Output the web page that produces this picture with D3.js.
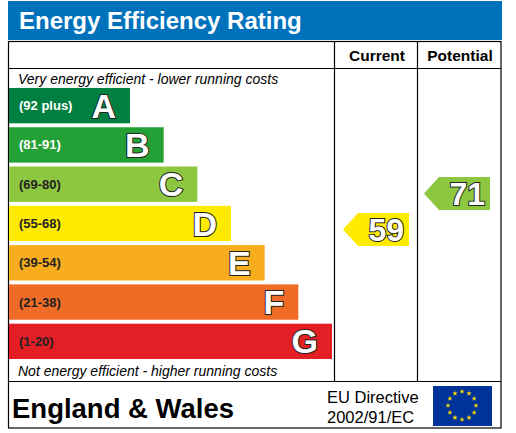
<!DOCTYPE html><html><head><meta charset="utf-8">
<script src="https://cdn.jsdelivr.net/npm/d3@7"></script>
<style>body{margin:0;background:#fff}</style></head><body><svg id="c" width="516" height="433"></svg>
<script>
const bands=["A","B","C","D","E","F","G"];
const ranges=["(92 plus)","(81-91)","(69-80)","(55-68)","(39-54)","(21-38)","(1-20)"];
const colors=["#008040","#23a036","#8dc63f","#ffeb00","#f7ad1d","#ef6b26","#e31e24"];
const labelColors=["#fff","#fff","#222","#222","#222","#222","#222"];
const currentValue=59, potentialValue=71;
const currentColor="#ffeb00", potentialColor="#8dc63f";
const svg=d3.select("#c");
const F="'Liberation Sans', Arial, sans-serif";
svg.append("rect").attr("x",8).attr("y",1).attr("width",494).attr("height",39).attr("fill","#0072bc");
svg.append("text").attr("x",19).attr("y",29).attr("font-family",F).attr("font-weight","bold").attr("font-size",24).attr("fill","#fff").text("Energy Efficiency Rating");
svg.append("rect").attr("x",8.5).attr("y",41.5).attr("width",492.5).attr("height",386.5).attr("fill","none").attr("stroke","#000").attr("stroke-width",1.2);
[[8,501,68.5,68.5],[8,501,381.5,381.5],[334.5,334.5,41,381],[417.5,417.5,41,381]].forEach(l=>svg.append("line").attr("x1",l[0]).attr("x2",l[1]).attr("y1",l[2]).attr("y2",l[3]).attr("stroke","#000").attr("stroke-width",1.2));
svg.append("text").attr("x",377).attr("y",61).attr("text-anchor","middle").attr("font-family",F).attr("font-weight","bold").attr("font-size",15.5).text("Current");
svg.append("text").attr("x",460).attr("y",61).attr("text-anchor","middle").attr("font-family",F).attr("font-weight","bold").attr("font-size",15.5).text("Potential");
svg.append("text").attr("x",18).attr("y",84).attr("font-family",F).attr("font-style","italic").attr("font-size",14).text("Very energy efficient - lower running costs");
svg.append("text").attr("x",18).attr("y",376).attr("font-family",F).attr("font-style","italic").attr("font-size",14).text("Not energy efficient - higher running costs");
const y=d3.scaleBand().domain(bands).range([86,361]).paddingInner(0.1).paddingOuter(0.05);
const xr=d3.scaleLinear().domain([0,6]).range([130,332]);
const g=svg.selectAll("g.band").data(bands).join("g");
g.append("rect").attr("x",9).attr("y",d=>y(d)).attr("width",(d,i)=>xr(i)-9).attr("height",y.bandwidth()).attr("fill",(d,i)=>colors[i]);
g.append("text").attr("x",19).attr("y",d=>y(d)+y.bandwidth()/2+4.5).attr("font-family",F).attr("font-weight","bold").attr("font-size",13).attr("fill",(d,i)=>labelColors[i]).text((d,i)=>ranges[i]);
g.append("text").attr("x",(d,i)=>xr(i)-14).attr("y",d=>y(d)+y.bandwidth()/2+12).attr("text-anchor","end").attr("font-family",F).attr("font-weight","bold").attr("font-size",34).attr("fill","#fff").attr("stroke","#222").attr("stroke-width",2).attr("paint-order","stroke").text(d=>d);
const vy=d3.scaleLinear().domain([59,71]).range([229.5,193.5]);
function arrow(x,v,c){
  const cy=vy(v),h=33,w=66,p=15;
  svg.append("path").attr("d",`M${x},${cy}L${x+p},${cy-h/2}L${x+w},${cy-h/2}L${x+w},${cy+h/2}L${x+p},${cy+h/2}Z`).attr("fill",c);
  svg.append("text").attr("x",x+w-5).attr("y",cy+11.5).attr("text-anchor","end").attr("font-family",F).attr("font-weight","bold").attr("font-size",32).attr("fill","#fff").attr("stroke","#222").attr("stroke-width",2).attr("paint-order","stroke").text(v);
}
arrow(343,currentValue,currentColor);
arrow(424,potentialValue,potentialColor);
svg.append("text").attr("x",12).attr("y",418).attr("font-family",F).attr("font-weight","bold").attr("font-size",27.5).text("England & Wales");
svg.append("text").attr("x",327).attr("y",403).attr("font-family",F).attr("font-size",16.5).text("EU Directive");
svg.append("text").attr("x",327).attr("y",423).attr("font-family",F).attr("font-size",16.5).text("2002/91/EC");
svg.append("rect").attr("x",433).attr("y",386).attr("width",59).attr("height",40).attr("fill","#003399");
const star=d3.symbol().type(d3.symbolStar).size(9);
d3.range(12).forEach(i=>{const a=i*Math.PI/6;svg.append("path").attr("d",star).attr("fill","#ffdd00").attr("transform",`translate(${462+14*Math.sin(a)},${405.5-14*Math.cos(a)})`);});
</script></body></html>
